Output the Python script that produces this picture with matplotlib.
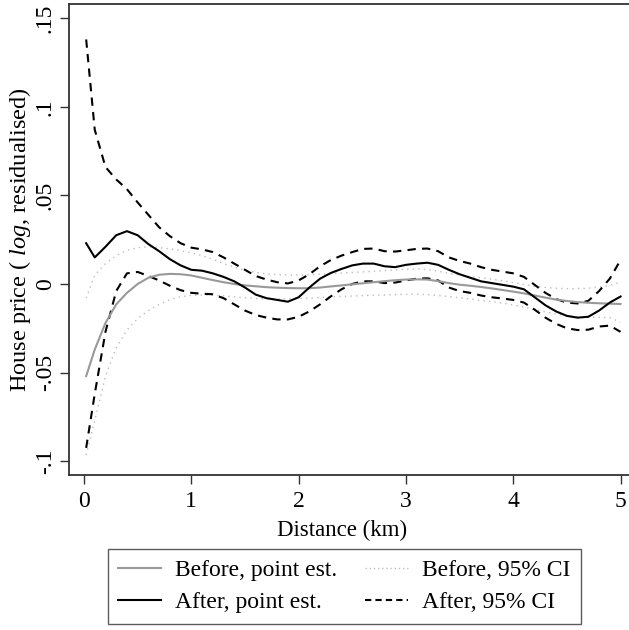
import matplotlib
matplotlib.use("Agg")
import matplotlib.pyplot as plt

# distance grid (km)
dist = [0.02, 0.1, 0.2, 0.3, 0.4, 0.5, 0.6, 0.7, 0.8, 0.9,
        1.0, 1.1, 1.2, 1.3, 1.4, 1.5, 1.6, 1.7, 1.8, 1.9,
        2.0, 2.1, 2.2, 2.3, 2.4, 2.5, 2.6, 2.7, 2.8, 2.9,
        3.0, 3.1, 3.2, 3.3, 3.4, 3.5, 3.6, 3.7, 3.8, 3.9,
        4.0, 4.1, 4.2, 4.3, 4.4, 4.5, 4.6, 4.7, 4.8, 4.9, 5.0]

before_est = [-0.052, -0.037, -0.022, -0.0115, -0.005, 0.0, 0.0035, 0.0052, 0.0057, 0.0055,
              0.0048, 0.0035, 0.0022, 0.0010, 0.0, -0.0008, -0.0013, -0.0018, -0.0021, -0.0023,
              -0.0024, -0.0024, -0.0020, -0.0014, -0.0008, -0.0002, 0.0004, 0.0010, 0.0016, 0.0021,
              0.0025, 0.0026, 0.0025, 0.0016, 0.0005, -0.0004, -0.0010, -0.0017, -0.0025, -0.0034,
              -0.0043, -0.0053, -0.0065, -0.0077, -0.0088, -0.0096, -0.0102, -0.0106, -0.0109, -0.0111, -0.0113]

before_hi = [-0.008, 0.005, 0.0115, 0.016, 0.019, 0.0205, 0.021, 0.0205, 0.0198, 0.0188,
             0.0175, 0.016, 0.014, 0.0115, 0.0095, 0.0078, 0.0065, 0.0057, 0.0053, 0.0051,
             0.0050, 0.0052, 0.0055, 0.0058, 0.0062, 0.0065, 0.0068, 0.0072, 0.0076, 0.0080,
             0.0083, 0.0085, 0.0082, 0.0072, 0.0060, 0.0050, 0.0042, 0.0035, 0.0027, 0.0018,
             0.0008, -0.0003, -0.0013, -0.0020, -0.0024, -0.0026, -0.0026, -0.0024, -0.0018, -0.0008, 0.0010]

before_lo = [-0.0965, -0.077, -0.052, -0.036, -0.026, -0.0195, -0.015, -0.0115, -0.0088, -0.0072,
             -0.0064, -0.0062, -0.0063, -0.0067, -0.0073, -0.0078, -0.0082, -0.0084, -0.0084, -0.0083,
             -0.0082, -0.0080, -0.0077, -0.0073, -0.0070, -0.0068, -0.0066, -0.0064, -0.0062, -0.0060,
             -0.0058, -0.0058, -0.0060, -0.0065, -0.0071, -0.0078, -0.0085, -0.0092, -0.0100, -0.0108,
             -0.0118, -0.0130, -0.0143, -0.0157, -0.0170, -0.0180, -0.0186, -0.0188, -0.0188, -0.0190, -0.0215]

after_est = [0.023, 0.015, 0.021, 0.0275, 0.0298, 0.0275, 0.0225, 0.0185, 0.014, 0.0105,
             0.008, 0.0075, 0.006, 0.004, 0.0015, -0.002, -0.006, -0.008, -0.009, -0.010,
             -0.0075, -0.002, 0.003, 0.0062, 0.0085, 0.0105, 0.0115, 0.0115, 0.010, 0.0095,
             0.0108, 0.0115, 0.012, 0.0108, 0.008, 0.0055, 0.0035, 0.0015, 0.0005, -0.0005,
             -0.0015, -0.003, -0.0075, -0.012, -0.0155, -0.018, -0.019, -0.0185, -0.015, -0.0105, -0.0071]

after_hi = [0.138, 0.087, 0.066, 0.059, 0.0535, 0.046, 0.039, 0.032, 0.027, 0.023,
            0.0205, 0.0195, 0.018, 0.015, 0.0115, 0.008, 0.0045, 0.0025, 0.001, 0.0003,
            0.002, 0.0055, 0.010, 0.0135, 0.016, 0.018, 0.0198, 0.020, 0.0185, 0.0183,
            0.019, 0.0198, 0.020, 0.0185, 0.015, 0.013, 0.0115, 0.0095, 0.008, 0.007,
            0.006, 0.004, -0.0005, -0.005, -0.0085, -0.0105, -0.011, -0.0095, -0.004, 0.003, 0.0135]

after_lo = [-0.0925, -0.062, -0.027, -0.004, 0.006, 0.0068, 0.0045, 0.002, -0.001, -0.0035,
            -0.005, -0.0055, -0.0058, -0.008, -0.0115, -0.015, -0.0175, -0.019, -0.020, -0.020,
            -0.0185, -0.0155, -0.0115, -0.007, -0.003, 0.0, 0.0015, 0.0015, 0.0005, 0.0008,
            0.002, 0.003, 0.0032, 0.002, -0.002, -0.004, -0.005, -0.0065, -0.0075, -0.0082,
            -0.009, -0.0105, -0.0145, -0.019, -0.0225, -0.025, -0.026, -0.0258, -0.024, -0.0235, -0.027]

yticks = [-0.1, -0.05, 0, 0.05, 0.1, 0.15]
ytick_labels = ["-.1", "-.05", "0", ".05", ".1", ".15"]
xticks = [0, 1, 2, 3, 4, 5]

plt.rcParams["font.family"] = ["Liberation Serif", "DejaVu Serif"]
plt.rcParams["mathtext.fontset"] = "custom"
plt.rcParams["mathtext.rm"] = "Liberation Serif"
plt.rcParams["mathtext.it"] = "Liberation Serif:italic"

fig = plt.figure(figsize=(6.29, 6.30), dpi=100)
W, H = 629, 630
ax = fig.add_axes([69 / W, 155 / H, (629 - 69) / W, (475 - 4) / H])

edge = "#333333"
ci_gray = "#bdbdbd"
ax.plot(dist, before_hi, color=ci_gray, lw=1.0, linestyle=(0, (1, 3)))
ax.plot(dist, before_lo, color=ci_gray, lw=1.0, linestyle=(0, (1, 3)))
ax.plot(dist, after_hi, color="black", lw=1.5, linestyle=(0, (4, 3)))
ax.plot(dist, after_lo, color="black", lw=1.5, linestyle=(0, (4, 3)))
ax.plot(dist, before_est, color="#999999", lw=1.5)
ax.plot(dist, after_est, color="black", lw=1.5)

ax.set_xlim(-0.14, 5.079)
ax.set_ylim(-0.1078, 0.158)
ax.set_xticks(xticks)
ax.set_xticklabels([str(t) for t in xticks])
ax.set_yticks(yticks)
ax.set_yticklabels(ytick_labels, rotation=90, va="center", ha="right")

ax.tick_params(direction="out", length=6.5, width=1.0, color=edge, labelsize=17)
ax.tick_params(axis="x", pad=5)
ax.tick_params(axis="y", pad=3)
for side in ["left", "bottom", "top"]:
    ax.spines[side].set_color(edge)
    ax.spines[side].set_linewidth(1.3)
ax.spines["right"].set_visible(False)

ax.set_xlabel("Distance (km)", fontsize=16.5)
ax.xaxis.set_label_coords((342.5 - 69) / 560, -(520 - 475) / 471, transform=ax.transAxes)
ax.set_ylabel("House price ( $\\it{log}$, residualised)", fontsize=17.5)
ax.yaxis.set_label_coords((33 - 69) / 560, 0.5)

# legend handles (empty lines, only for the key)
h1, = ax.plot([], [], color="#999999", lw=1.5)
h2, = ax.plot([], [], color="black", lw=1.5)
h3, = ax.plot([], [], color=ci_gray, lw=1.0, linestyle=(0, (1, 2)))
h4, = ax.plot([], [], color="black", lw=1.5, linestyle=(0, (3, 2)))
leg = fig.legend([h1, h2, h3, h4],
                 ["Before, point est.", "After, point est.", "Before, 95% CI", "After, 95% CI"],
                 ncol=2, loc="center", bbox_to_anchor=(344.5 / W, 43.5 / H),
                 fontsize=17, frameon=True, fancybox=False, handlelength=1.8,
                 handletextpad=0.6, columnspacing=1.2, labelspacing=0.45,
                 borderpad=0.45)
leg.get_frame().set_edgecolor(edge)
leg.get_frame().set_linewidth(1.0)

fig.savefig("out.png", dpi=100)
